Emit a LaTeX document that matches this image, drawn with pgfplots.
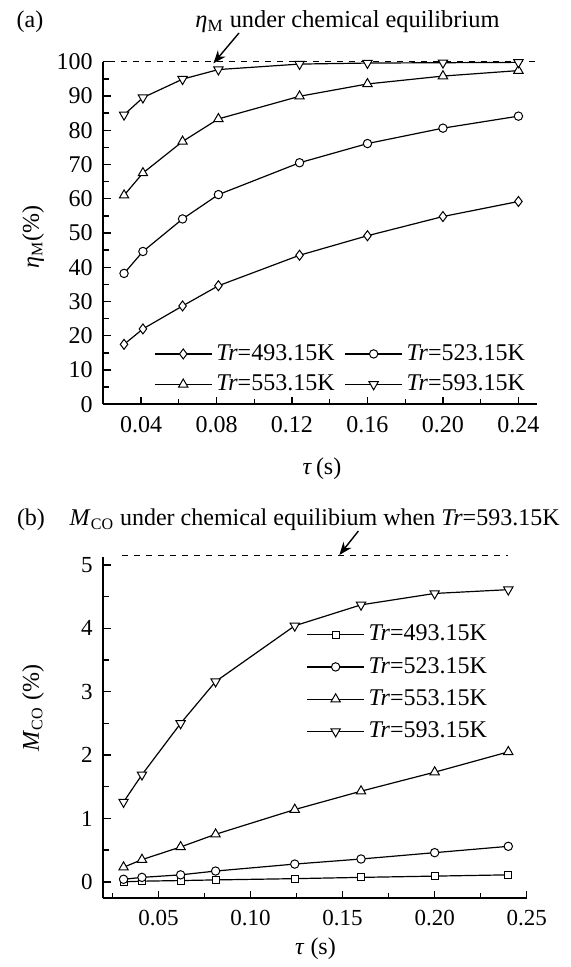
\documentclass[border=0pt]{standalone}
\usepackage{fontspec}
\setmainfont{Liberation Serif}
\usepackage{pgfplots}
\pgfplotsset{compat=1.18}
\usetikzlibrary{arrows.meta}

\pgfplotsset{
  mystyle/.style={
    scale only axis,
    axis lines*=left,
    axis line style={line width=0.9pt},
    tick align=inside,
    major tick length=3.8pt,
    minor tick length=2.7pt,
    tick style={line width=0.7pt, black},
    /pgf/number format/assume math mode=true,
    clip=false,
    scaled ticks=false,
    legend cell align=left,
    legend style={draw=none, fill=none, font=\fontsize{12}{14}\selectfont},
    legend image code/.code={\draw[mark repeat=2,mark phase=2,##1] plot coordinates {(0cm,0cm)(0.5cm,0cm)(1cm,0cm)};},
    yticklabel style={xshift=-1.2pt},
  },
  s1/.style={black, line width=0.6pt, mark=diamond*, mark size=2.5pt, mark options={fill=white, line width=0.5pt}},
  s2/.style={black, line width=0.6pt, mark=*, mark size=2.1pt, mark options={fill=white, line width=0.5pt}},
  s3/.style={black, line width=0.6pt, mark=triangle*, mark size=2.7pt, mark options={fill=white, line width=0.5pt}},
  s4/.style={black, line width=0.6pt, mark=triangle*, mark size=2.7pt, mark options={fill=white, line width=0.5pt, rotate=180}},
  s0/.style={black, line width=0.6pt, mark=square*, mark size=1.75pt, mark options={fill=white, line width=0.5pt}},
}

\begin{document}
\fontsize{12}{14}\selectfont
\begin{tikzpicture}
\useasboundingbox (0,0) rectangle (285pt,483.5pt);

% ---------- (a) ----------
\begin{axis}[mystyle,
  at={(51.65pt,281.35pt)}, anchor=south west,
  width=217pt, height=171.3pt,
  every tick label/.append style={font=\fontsize{12}{14}\selectfont},
  xmin=0.02, xmax=0.25, ymin=0, ymax=100,
  xtick={0.04,0.08,0.12,0.16,0.20,0.24},
  minor xtick={0.06,0.10,0.14,0.18,0.22},
  ytick={0,10,...,100},
  minor ytick={5,15,...,95},
  xticklabel style={yshift=-1.8pt, /pgf/number format/.cd,fixed,fixed zerofill,precision=2},
  legend columns=2,
  legend style={at={(0.1025,0.005)}, anchor=south west, row sep=1.5pt},
  /tikz/every even column/.append style={column sep=3pt},
]
\addplot[black, dashed, line width=0.5pt, forget plot] coordinates {(0.023,100) (0.249,100)};
\addplot[s1] coordinates {(0.031,17.5) (0.041,22.0) (0.062,28.7) (0.081,34.6) (0.124,43.5) (0.16,49.2) (0.2,54.8) (0.24,59.2)};
\addlegendentry{\textit{Tr}=493.15K}
\addplot[s2] coordinates {(0.031,38.2) (0.041,44.6) (0.062,54.1) (0.081,61.2) (0.124,70.5) (0.16,76.1) (0.2,80.6) (0.24,84.1)};
\addlegendentry{\textit{Tr}=523.15K}
\addplot[s3] coordinates {(0.031,61.0) (0.041,67.5) (0.062,76.7) (0.081,83.3) (0.124,89.9) (0.16,93.5) (0.2,95.8) (0.24,97.4)};
\addlegendentry{\textit{Tr}=553.15K}
\addplot[s4] coordinates {(0.031,84.5) (0.041,89.5) (0.062,94.9) (0.081,97.7) (0.124,99.3) (0.16,99.6) (0.2,99.7) (0.24,99.8)};
\addlegendentry{\textit{Tr}=593.15K}
\end{axis}

\node at (15pt,472.5pt) {(a)};
\node[font=\fontsize{12.2}{14}\selectfont, anchor=west, inner sep=0pt] at (97.5pt,472.5pt) {\textit{η}\textsubscript{M} under chemical equilibrium};
\draw[-{Stealth[length=6.5pt,width=5pt]}, line width=0.7pt] (119.5pt,467pt) -- (106.7pt,451.8pt);
\node[rotate=90] at (16.5pt,365pt) {\textit{η}\textsubscript{M}(\%)};
\node at (161pt,249pt) {\textit{τ}\,(s)};

% ---------- (b) ----------
\begin{axis}[mystyle,
  at={(51.65pt,34.35pt)}, anchor=south west,
  width=211.7pt, height=170.8pt,
  every tick label/.append style={font=\fontsize{11.5}{13}\selectfont},
  xmin=0.02, xmax=0.25, ymin=-0.26, ymax=5.13,
  xtick={0.05,0.10,0.15,0.20,0.25},
  minor xtick={0.025,0.075,0.125,0.175,0.225},
  ytick={0,1,2,3,4,5},
  minor ytick={0.5,1.5,2.5,3.5,4.5},
  xticklabel style={yshift=-1.8pt, /pgf/number format/.cd,fixed,fixed zerofill,precision=2},
  legend style={at={(0.465,0.825)}, anchor=north west, row sep=2.4pt},
]
\addplot[black, dashed, line width=0.5pt, forget plot] coordinates {(0.0304,5.15) (0.2398,5.15)};
\addplot[s0] coordinates {(0.031,0.00) (0.041,0.01) (0.062,0.02) (0.081,0.03) (0.124,0.05) (0.16,0.07) (0.2,0.09) (0.24,0.11)};
\addlegendentry{\textit{Tr}=493.15K}
\addplot[s2] coordinates {(0.031,0.04) (0.041,0.07) (0.062,0.11) (0.081,0.17) (0.124,0.28) (0.16,0.36) (0.2,0.46) (0.24,0.56)};
\addlegendentry{\textit{Tr}=523.15K}
\addplot[s3] coordinates {(0.031,0.23) (0.041,0.35) (0.062,0.55) (0.081,0.75) (0.124,1.14) (0.16,1.43) (0.2,1.73) (0.24,2.05)};
\addlegendentry{\textit{Tr}=553.15K}
\addplot[s4] coordinates {(0.031,1.26) (0.041,1.69) (0.062,2.50) (0.081,3.16) (0.124,4.04) (0.16,4.37) (0.2,4.55) (0.24,4.61)};
\addlegendentry{\textit{Tr}=593.15K}
\end{axis}

\node at (15.5pt,223.5pt) {(b)};
\node[font=\fontsize{12}{14}\selectfont, anchor=east, inner sep=0pt] at (280pt,223.5pt) {\textit{M}\textsubscript{CO} under chemical equilibium when \textit{Tr}=593.15K};
\draw[-{Stealth[length=6.5pt,width=5pt]}, line width=0.7pt] (179.2pt,218pt) -- (169.7pt,206pt);
\node[rotate=90] at (16.5pt,129.5pt) {\textit{M}\textsubscript{CO} (\%)};
\node at (157.75pt,9pt) {\textit{τ} (s)};
\end{tikzpicture}
\end{document}
